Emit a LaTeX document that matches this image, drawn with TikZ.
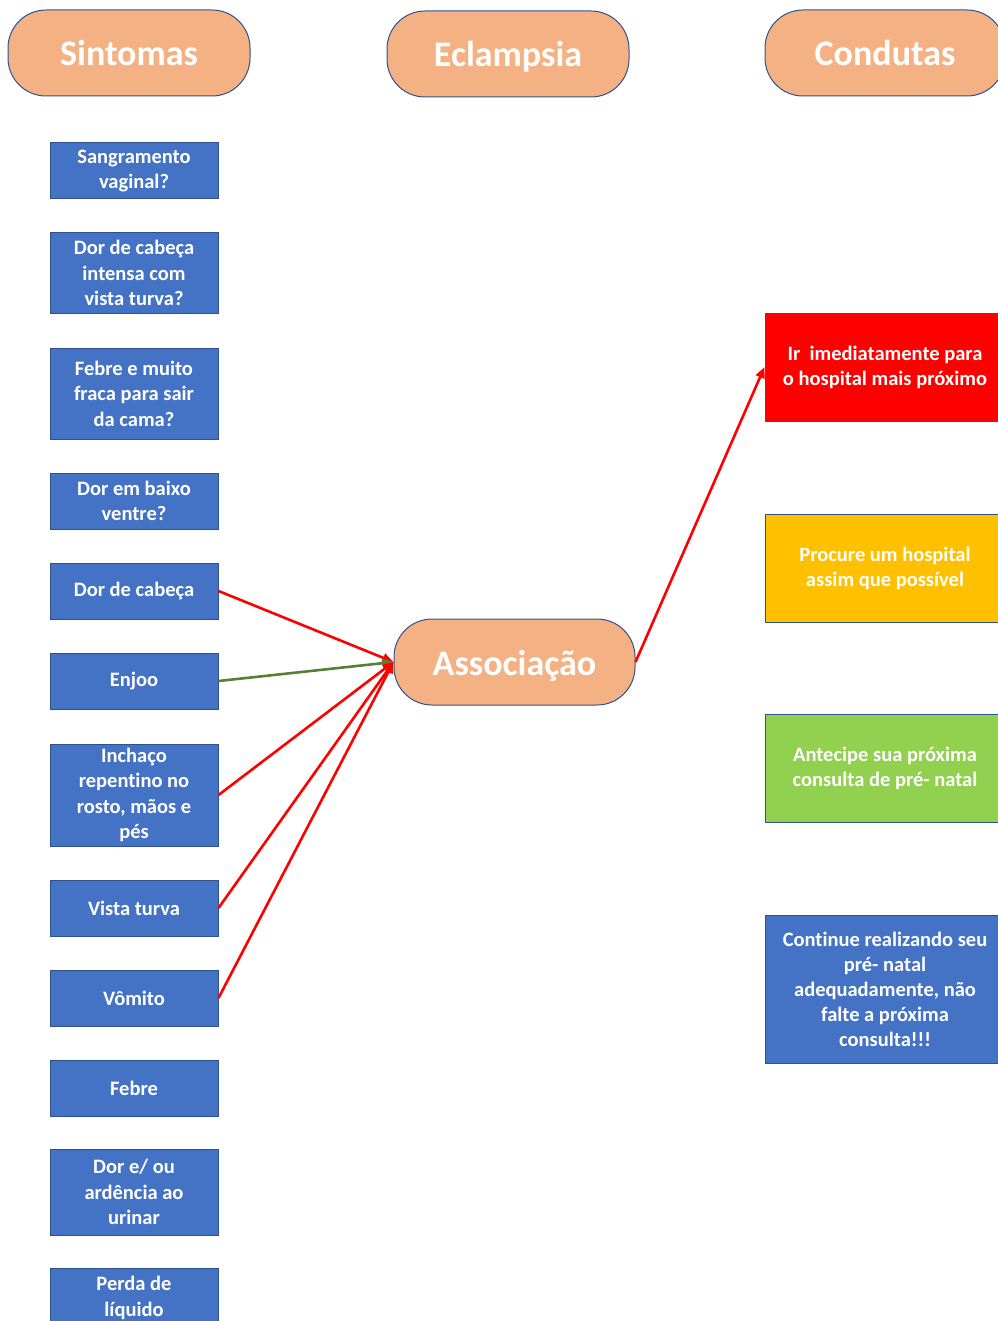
\documentclass[tikz,border=0pt]{standalone}
\usepackage{fontspec}
\setmainfont{Carlito}[Ligatures={NoCommon}]
\usepackage{xcolor}
\usetikzlibrary{arrows.meta, positioning}
\definecolor{azul}{HTML}{4472C4}
\definecolor{borda}{HTML}{2F528F}
\definecolor{laranja}{HTML}{F4B183}
\definecolor{amarelo}{HTML}{FFC000}
\definecolor{verde}{HTML}{92D050}
\definecolor{verdeesc}{HTML}{548235}
\tikzset{
  header/.style={rectangle, draw=borda, fill=laranja, rounded corners=38pt,
                 minimum width=242pt, minimum height=86pt, line width=1pt,
                 text height=26pt, text depth=0pt,
                 text=white, font=\fontsize{36}{40}\selectfont\bfseries},
  sintoma/.style={rectangle, draw=borda, fill=azul, minimum width=168pt,
                  minimum height=56pt, align=center, text=white, line width=1pt,
                  font=\fontsize{20.5}{25.5}\selectfont\bfseries},
  conduta/.style={rectangle, draw=borda, fill=azul, minimum width=240pt,
                  minimum height=108pt, align=center, text=white, line width=1pt,
                  font=\fontsize{20.5}{25}\selectfont\bfseries},
  seta/.style={-{Stealth[length=11pt, width=9pt, inset=0pt]}, draw=red, line width=2.6pt},
}

\begin{document}
\begin{tikzpicture}[x=1pt, y=-1pt]
  \useasboundingbox (0,0) rectangle (997,1321);

  % cabecalhos
  \node[header] (sint) at (129,53) {Sintomas};
  \node[header] (ecl) at (508,54) {Eclampsia};
  \node[header, minimum width=240pt] (cond) at (885,53) {Condutas};

  % sintomas
  \node[sintoma] (s1) at (134,171) {Sangramento\\vaginal?};
  \node[sintoma, minimum height=80pt] (s2) at (134,273) {Dor de cabeça\\intensa com\\vista turva?};
  \node[sintoma, minimum height=91pt] (s3) at (134,393.5) {Febre e muito\\fraca para sair\\da cama?};
  \node[sintoma] (s4) at (134,501) {Dor em baixo\\ventre?};
  \node[sintoma] (dc) at (134,591) {Dor de cabeça};
  \node[sintoma] (enj) at (134,681) {Enjoo};
  \node[sintoma, minimum height=102pt] (inch) at (134,795) {Inchaço\\repentino no\\rosto, mãos e\\pés};
  \node[sintoma] (vt) at (134,908) {Vista turva};
  \node[sintoma] (vom) at (134,998) {Vômito};
  \node[sintoma] (feb) at (134,1088) {Febre};
  \node[sintoma, minimum height=86pt] (s11) at (134,1192) {Dor e/ ou\\ardência ao\\urinar};
  \node[sintoma, minimum height=60pt] (s12) at (134,1298) {Perda de\\líquido};

  % associacao
  \node[header, minimum width=241pt] (assoc) at (514.5,662) {Associação};

  % condutas
  \node[conduta, fill=red] (ir) at (885,367) {Ir\ \ imediatamente para\\o hospital mais próximo};
  \node[conduta, fill=amarelo] (proc) at (885,568) {Procure um hospital\\assim que possível};
  \node[conduta, fill=verde] (ant) at (885,768) {Antecipe sua próxima\\consulta de pré- natal};
  \node[conduta, minimum height=148pt] (cont) at (885,989)
    {Continue realizando seu\\pré- natal\\adequadamente, não\\falte a próxima\\consulta!!!};

  % setas
  \draw[seta] (dc.east) -- (assoc.west);
  \draw[seta, draw=verdeesc] (enj.east) -- (assoc.west);
  \draw[seta] (inch.east) -- (assoc.west);
  \draw[seta] (vt.east) -- (assoc.west);
  \draw[seta] (vom.east) -- (assoc.west);
  \draw[seta] (assoc.east) -- (ir.west);
\end{tikzpicture}
\end{document}
